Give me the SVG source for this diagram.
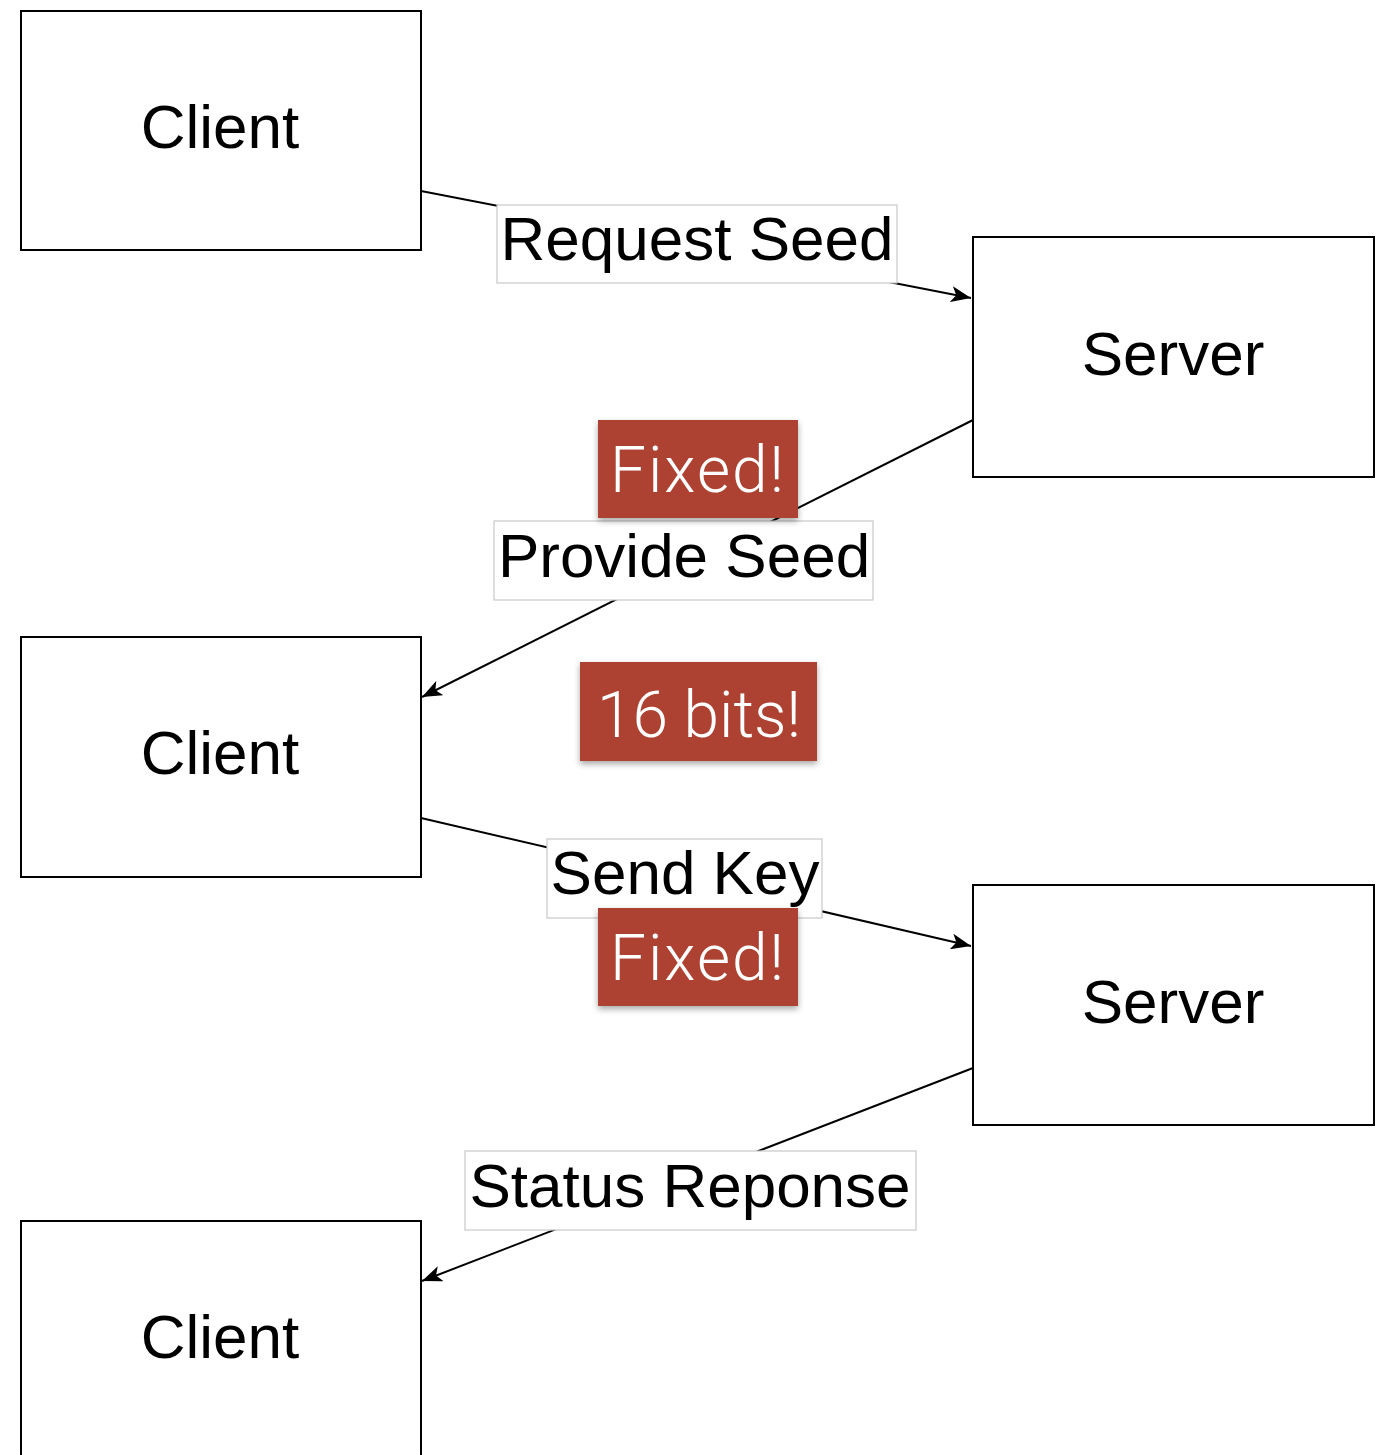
<svg xmlns="http://www.w3.org/2000/svg" width="1386" height="1455" viewBox="0 0 1386 1455">
  <style>
    .node rect { fill: #ffffff; stroke: #000000; stroke-width: 2; }
    .node text { font-family: "Liberation Sans", Arial, sans-serif; font-size: 62px; fill: #000000; text-anchor: middle; }
    .edge { fill: none; stroke: #000000; stroke-width: 2; }
    .lbl rect { fill: #ffffff; stroke: #c8c8c8; stroke-width: 1.2; }
    .lbl text { font-family: "Liberation Sans", Arial, sans-serif; font-size: 62px; fill: #000000; text-anchor: middle; }
    .badge rect { fill: #ad4232; }
    .badge text { font-family: Roboto, "Liberation Sans", sans-serif; font-weight: 300; font-size: 64px; fill: #ffffff; text-anchor: middle; }
    .badge text.wide { letter-spacing: 2px; }
  </style>
  <defs>
    <marker id="arrow" viewBox="0 0 20 16" refX="20" refY="8" markerWidth="20" markerHeight="16" markerUnits="userSpaceOnUse" orient="auto">
      <path d="M0,0 L20,8 L0,16 L5,8 Z" fill="#000000"/>
    </marker>
    <filter id="shadow" x="-10%" y="-10%" width="120%" height="130%">
      <feDropShadow dx="0" dy="3" stdDeviation="3" flood-color="#000000" flood-opacity="0.35"/>
    </filter>
  </defs>
  <rect width="1386" height="1455" fill="#ffffff"/>

  <!-- nodes -->
  <g id="client1" class="node">
    <rect x="21" y="11" width="400" height="239"/>
    <text x="220" y="148">Client</text>
  </g>
  <g id="server1" class="node">
    <rect x="973" y="237" width="401" height="240"/>
    <text x="1173" y="375">Server</text>
  </g>
  <g id="client2" class="node">
    <rect x="21" y="637" width="400" height="240"/>
    <text x="220" y="774">Client</text>
  </g>
  <g id="server2" class="node">
    <rect x="973" y="885" width="401" height="240"/>
    <text x="1173" y="1023">Server</text>
  </g>
  <g id="client3" class="node">
    <rect x="21" y="1221" width="400" height="260"/>
    <text x="220" y="1358">Client</text>
  </g>

  <!-- connectors with their labels -->
  <g id="connectors">
    <line class="edge" x1="421" y1="191" x2="971" y2="298" marker-end="url(#arrow)"/>
    <line class="edge" x1="973" y1="420" x2="422" y2="697" marker-end="url(#arrow)"/>
    <line class="edge" x1="421" y1="818" x2="971" y2="946" marker-end="url(#arrow)"/>
    <line class="edge" x1="973" y1="1068" x2="422" y2="1281" marker-end="url(#arrow)"/>

    <g class="lbl">
      <rect x="497" y="205" width="400" height="78"/>
      <text x="697" y="260">Request Seed</text>
    </g>
    <g class="lbl">
      <rect x="494" y="521" width="379" height="79"/>
      <text x="684" y="577">Provide Seed</text>
    </g>
    <g class="lbl">
      <rect x="547" y="839" width="275" height="79"/>
      <text x="685" y="894">Send Key</text>
    </g>
    <g class="lbl">
      <rect x="465" y="1151" width="451" height="79"/>
      <text x="690" y="1207">Status Reponse</text>
    </g>
  </g>

  <!-- callout badges -->
  <g id="badge-fixed-1" class="badge">
    <rect x="598" y="420" width="200" height="98" filter="url(#shadow)"/>
    <text class="wide" x="698" y="492">Fixed!</text>
  </g>
  <g id="badge-16bits" class="badge">
    <rect x="580" y="662" width="237" height="99" filter="url(#shadow)"/>
    <text x="699" y="737">16 bits!</text>
  </g>
  <g id="badge-fixed-2" class="badge">
    <rect x="598" y="908" width="200" height="98" filter="url(#shadow)"/>
    <text class="wide" x="698" y="980">Fixed!</text>
  </g>
</svg>
